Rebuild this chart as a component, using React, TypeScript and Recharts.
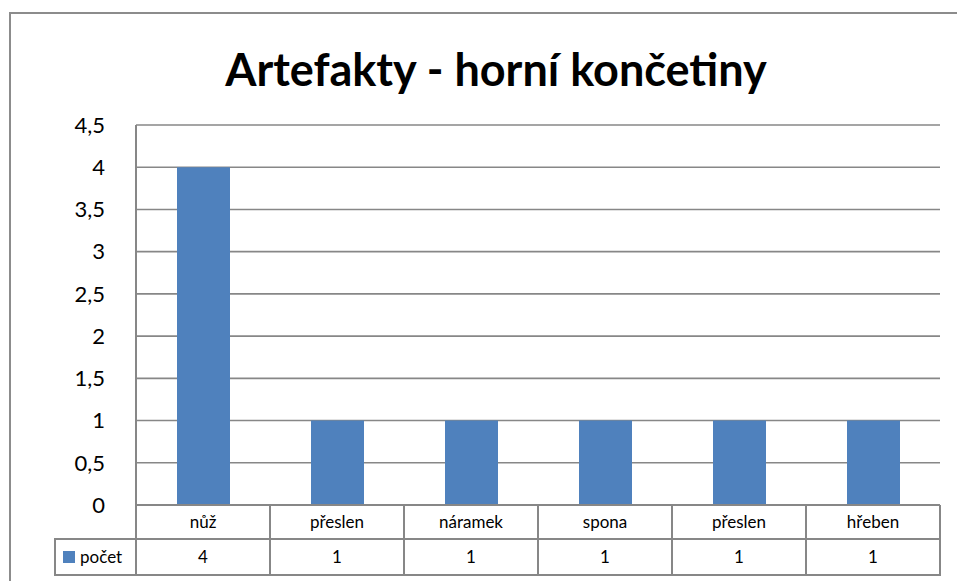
import React from 'react';
import { BarChart, Bar, XAxis, YAxis, CartesianGrid } from 'recharts';

const categories = ['nůž', 'přeslen', 'náramek', 'spona', 'přeslen', 'hřeben'];
const pocet = [4, 1, 1, 1, 1, 1];
const yTicks = [0, 0.5, 1, 1.5, 2, 2.5, 3, 3.5, 4, 4.5];
const seriesName = 'počet';
const title = 'Artefakty - horní končetiny';

const data = categories.map((name, i) => ({ name, pocet: pocet[i] }));

const W = 957;
const H = 581;
const FONT = 'Lato, "Open Sans", sans-serif';
const LINE = '#878787';
const BLUE = '#4F81BD';

const PLOT_LEFT = 136;
const PLOT_RIGHT = 940;
const PLOT_BOTTOM = 505;
const ROW1 = 34;
const ROW2 = 36;
const LEGEND_LEFT = 55;

const TableTick = (props: any) => {
  const { x, payload } = props;
  const i = payload.index;
  const cw = (PLOT_RIGHT - PLOT_LEFT) / categories.length;
  const l = x - cw / 2;
  const r = x + cw / 2;
  const y0 = PLOT_BOTTOM;
  const y1 = y0 + ROW1;
  const y2 = y1 + ROW2;
  const sw = 2;
  return (
    <g>
      {i === 0 && (
        <g>
          <line x1={LEGEND_LEFT} y1={y1} x2={l} y2={y1} stroke={LINE} strokeWidth={sw} />
          <line x1={LEGEND_LEFT} y1={y2} x2={l} y2={y2} stroke={LINE} strokeWidth={sw} />
          <line x1={LEGEND_LEFT} y1={y1 - 1} x2={LEGEND_LEFT} y2={y2 + 1} stroke={LINE} strokeWidth={sw} />
          <line x1={l} y1={y0} x2={l} y2={y2} stroke={LINE} strokeWidth={sw} />
          <rect x={63} y={y1 + 12} width={12} height={12} fill={BLUE} />
          <text x={80} y={y1 + 24} fontSize={17} fill="#000" fontFamily={FONT}>
            {seriesName}
          </text>
        </g>
      )}
      <line x1={l} y1={y1} x2={r} y2={y1} stroke={LINE} strokeWidth={sw} />
      <line x1={l} y1={y2} x2={r} y2={y2} stroke={LINE} strokeWidth={sw} />
      <line x1={r} y1={y0} x2={r} y2={y2 + 1} stroke={LINE} strokeWidth={sw} />
      <text x={x} y={y0 + 23} textAnchor="middle" fontSize={17} fill="#000" fontFamily={FONT}>
        {categories[i]}
      </text>
      <text x={x} y={y1 + 24} textAnchor="middle" fontSize={17} fill="#000" fontFamily={FONT}>
        {pocet[i]}
      </text>
    </g>
  );
};

export default function App() {
  return (
    <div
      style={{
        position: 'fixed',
        left: 0,
        top: 0,
        width: W,
        height: H,
        overflow: 'hidden',
        background: '#fff',
        zIndex: 10,
      }}
    >
      <div
        style={{
          position: 'absolute',
          left: 9,
          top: 12,
          width: W,
          height: H,
          borderTop: '2px solid #8c8c8c',
          borderLeft: '2px solid #8c8c8c',
        }}
      />
      <div
        style={{
          position: 'absolute',
          left: 96,
          top: 37,
          width: 800,
          textAlign: 'center',
          fontFamily: FONT,
          fontWeight: 700,
          fontSize: 45,
          lineHeight: '64px',
          color: '#000',
          whiteSpace: 'nowrap',
        }}
      >
        {title}
      </div>
      <div style={{ position: 'absolute', left: 0, top: 0 }}>
        <BarChart
          width={W}
          height={H}
          data={data}
          margin={{ top: 125, right: W - PLOT_RIGHT, bottom: 6, left: 0 }}
        >
          <CartesianGrid vertical={false} stroke={LINE} strokeWidth={1.6} />
          <YAxis
            width={PLOT_LEFT}
            domain={[0, 4.5]}
            ticks={yTicks}
            interval={0}
            tickLine={false}
            tickMargin={25}
            axisLine={{ stroke: LINE, strokeWidth: 2 }}
            tick={{ fontSize: 22, fill: '#000', fontFamily: FONT }}
            tickFormatter={(v: number) => String(v).replace('.', ',')}
          />
          <XAxis
            dataKey="name"
            height={ROW1 + ROW2}
            interval={0}
            tickLine={false}
            axisLine={{ stroke: LINE, strokeWidth: 2 }}
            tick={<TableTick />}
          />
          <Bar dataKey="pocet" fill={BLUE} barSize={53} isAnimationActive={false} />
        </BarChart>
      </div>
    </div>
  );
}
